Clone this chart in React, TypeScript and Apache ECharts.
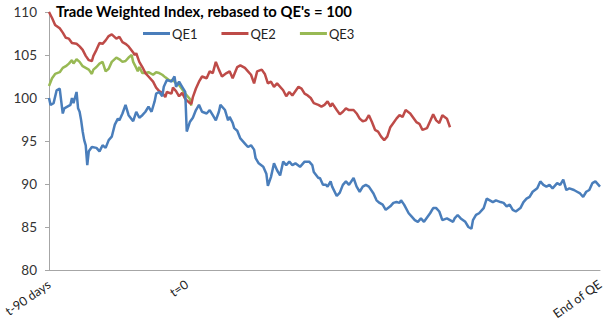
import React, { useEffect, useRef } from "react";
import * as echarts from "echarts";

// x = calendar days relative to QE start (t=0); "End of QE" at 270
const qe1Days = [-90,-89,-87,-85,-83,-82,-81,-80,-78,-76,-75,-74,-72,-71,-70,-69,-68,-67,-66,-65,-64,-62,-59,-57,-55,-53,-51,-49,-47,-45,-44,-42,-40,-38,-35,-33,-31,-29,-27,-25,-23,-21,-20,-18,-16,-15,-13,-10,-8,-7,-5,-3,-1,0,2,4,6,8,10,13,15,17,19,21,22,25,27,28,30,31,33,35,38,40,42,44,45,47,50,52,53,55,56,57,59,61,63,65,67,69,71,74,76,77,80,82,83,86,87,89,91,92,94,95,98,100,102,104,106,109,111,113,115,117,119,122,124,126,128,130,133,135,137,139,140,142,145,147,149,151,153,155,159,161,163,165,167,170,172,174,175,177,179,182,184,186,187,189,191,194,196,198,200,202,205,207,209,211,213,215,218,220,222,224,226,229,231,233,235,237,239,242,244,246,248,250,253,255,257,259,261,263,265,267,269,270];
const qe1Values = [100.0,99.2,99.4,100.9,101.1,99.6,98.2,98.8,99.0,99.2,100.0,99.4,100.7,98.8,98.4,97.4,96.1,95.1,94.5,92.2,93.8,94.3,94.2,93.8,94.5,94.2,95.1,95.5,96.9,97.6,97.4,98.2,99.2,98.0,97.3,98.4,97.7,98.0,98.4,99.0,98.4,99.6,100.5,100.7,100.2,101.3,102.1,101.9,102.5,101.3,101.9,101.3,100.7,96.1,97.2,97.7,98.6,99.2,98.4,98.2,98.6,98.0,97.4,98.4,99.2,98.6,97.4,97.8,97.1,96.5,96.2,95.3,94.7,94.3,94.5,94.0,93.0,92.4,92.0,91.2,89.8,90.8,91.6,92.4,91.6,91.0,92.6,92.2,92.6,92.2,92.4,92.0,92.4,92.6,92.6,92.2,91.4,90.7,90.7,89.9,89.9,89.7,90.3,89.7,88.6,89.0,89.9,90.3,89.9,90.7,89.7,89.1,89.7,89.9,89.7,88.9,88.1,87.8,87.6,87.0,87.4,87.8,87.9,87.8,88.1,87.6,86.6,86.2,85.8,85.6,86.0,85.6,86.6,87.2,87.2,86.8,85.8,86.0,85.8,85.6,86.0,86.4,86.0,85.6,85.0,84.8,85.8,86.4,86.6,87.2,88.3,88.1,87.9,88.1,87.9,87.8,87.4,87.6,87.0,86.8,87.2,87.9,88.3,88.5,89.1,89.5,90.3,89.9,89.7,89.9,89.5,90.1,89.9,90.5,89.3,89.5,89.3,89.1,88.9,88.5,89.1,89.3,90.1,90.3,89.9,89.7];

const qe2Days = [-90,-88,-86,-83,-81,-79,-77,-75,-72,-70,-68,-66,-64,-62,-61,-59,-57,-55,-53,-51,-49,-46,-44,-42,-40,-38,-35,-34,-33,-31,-29,-27,-25,-22,-20,-18,-16,-14,-13,-10,-9,-7,-5,-3,-1,2,3,4,6,8,10,13,15,17,19,21,23,26,28,30,33,35,38,40,42,44,46,49,51,53,55,57,59,63,65,67,69,73,75,77,79,81,83,86,88,90,92,94,95,98,100,102,104,106,109,111,113,115,117,119,121,123,125,127,129,131,133,135,137,139,141,143,146,148,150,152,154,157,159,161,163,165,167,170,172];
const qe2Values = [110.0,109.3,108.5,108.1,107.6,107.0,106.9,106.4,106.3,106.0,105.6,104.9,104.4,104.3,104.9,105.6,106.4,106.3,106.7,107.2,107.4,106.9,107.1,106.5,106.3,106.0,105.3,105.0,105.2,104.2,103.6,102.9,102.5,101.9,101.2,100.8,100.6,100.1,100.7,100.5,101.2,100.8,100.2,100.6,99.9,99.4,99.3,100.1,101.1,101.9,102.5,102.3,103.1,102.9,104.2,103.3,102.5,102.9,103.1,102.3,103.6,103.8,103.5,103.1,102.7,101.7,103.1,103.3,102.8,101.7,101.9,101.3,101.7,100.9,100.2,100.7,100.3,101.3,101.1,100.5,100.3,100.0,99.4,99.2,99.0,99.2,99.6,99.0,99.4,98.6,98.1,98.4,98.8,98.6,98.6,98.2,97.6,97.3,97.4,98.0,97.2,96.3,96.1,95.5,95.1,95.5,96.6,97.1,97.6,98.0,97.8,98.6,98.2,97.7,97.2,97.0,96.3,96.5,97.3,98.1,97.4,97.1,98.0,97.6,96.6];

const qe3Days = [-90,-88,-86,-83,-81,-79,-77,-75,-74,-72,-70,-68,-66,-64,-62,-61,-59,-57,-55,-53,-51,-49,-46,-44,-42,-40,-38,-36,-35,-33,-32,-31,-29,-27,-25,-22,-20,-18,-16,-14,-11,-9,-7,-5,-3,-1,2,3];
const qe3Values = [101.4,102.3,102.8,103.0,103.5,103.7,104.0,104.4,104.0,104.5,104.2,103.7,103.5,103.3,102.8,103.3,103.6,104.0,104.2,103.1,103.4,104.2,104.7,104.5,104.2,104.3,104.7,105.0,104.2,103.5,103.1,103.6,102.9,102.9,103.0,102.7,103.0,102.9,102.7,102.4,102.0,102.1,101.7,101.5,101.0,100.5,99.9,99.1];

const seriesNames = ["QE1", "QE2", "QE3"];
const seriesColors = ["#4A7EBB", "#BE4B48", "#98B954"];
const yTicks = [80, 85, 90, 95, 100, 105, 110];
const xTickLabels: Record<number, string> = { [-90]: "t-90 days", 0: "t=0", 270: "End of QE" };
const titleText = "Trade Weighted Index, rebased to QE's = 100";

const zip = (a: number[], b: number[]) => a.map((d, i) => [d, b[i]]);

export default function App() {
  const ref = useRef<HTMLDivElement>(null);
  useEffect(() => {
    if (!ref.current) return;
    const chart = echarts.init(ref.current, null, { renderer: "svg" });
    const font = "Lato, 'Open Sans', sans-serif";
    const data = [zip(qe1Days, qe1Values), zip(qe2Days, qe2Values), zip(qe3Days, qe3Values)];
    chart.setOption({
      animation: false,
      backgroundColor: "#ffffff",
      title: {
        text: titleText,
        left: 56,
        top: 3,
        padding: 0,
        textStyle: { fontFamily: font, fontSize: 14.8, fontWeight: "bold", color: "#000" },
      },
      legend: {
        data: seriesNames,
        left: 143,
        top: 27,
        padding: 0,
        icon: "rect",
        itemWidth: 27,
        itemHeight: 3,
        itemGap: 24,
        textStyle: { fontFamily: font, fontSize: 13, color: "#222", padding: [0, 0, 0, -3] },
      },
      grid: { left: 49, right: 14, top: 12, bottom: 52, containLabel: false, outerBoundsMode: "none" },
      xAxis: {
        type: "value",
        min: -90,
        max: 270,
        interval: 90,
        splitLine: { show: false },
        axisTick: { show: false },
        axisLine: { lineStyle: { color: "#A6A6A6", width: 1 } },
        axisLabel: {
          rotate: 35,
          margin: 13,
          fontFamily: font,
          fontSize: 12.5,
          color: "#222",
          formatter: (v: number) => xTickLabels[v] ?? "",
        },
      },
      yAxis: {
        type: "value",
        min: yTicks[0],
        max: yTicks[yTicks.length - 1],
        interval: 5,
        splitLine: { show: false },
        axisLine: { show: true, onZero: false, lineStyle: { color: "#A6A6A6", width: 1 } },
        axisTick: { show: true, length: 4, lineStyle: { color: "#A6A6A6" } },
        axisLabel: { margin: 12, fontFamily: font, fontSize: 13.5, color: "#333" },
      },
      series: seriesNames.map((name, i) => ({
        name,
        type: "line",
        data: data[i],
        showSymbol: false,
        symbol: "none",
        color: seriesColors[i],
        lineStyle: { width: 2.5, color: seriesColors[i] },
        z: 3 - i,
      })),
    });
    return () => chart.dispose();
  }, []);
  return <div ref={ref} style={{ width: 614, height: 322, position: "absolute", left: 0, top: 0 }} />;
}
